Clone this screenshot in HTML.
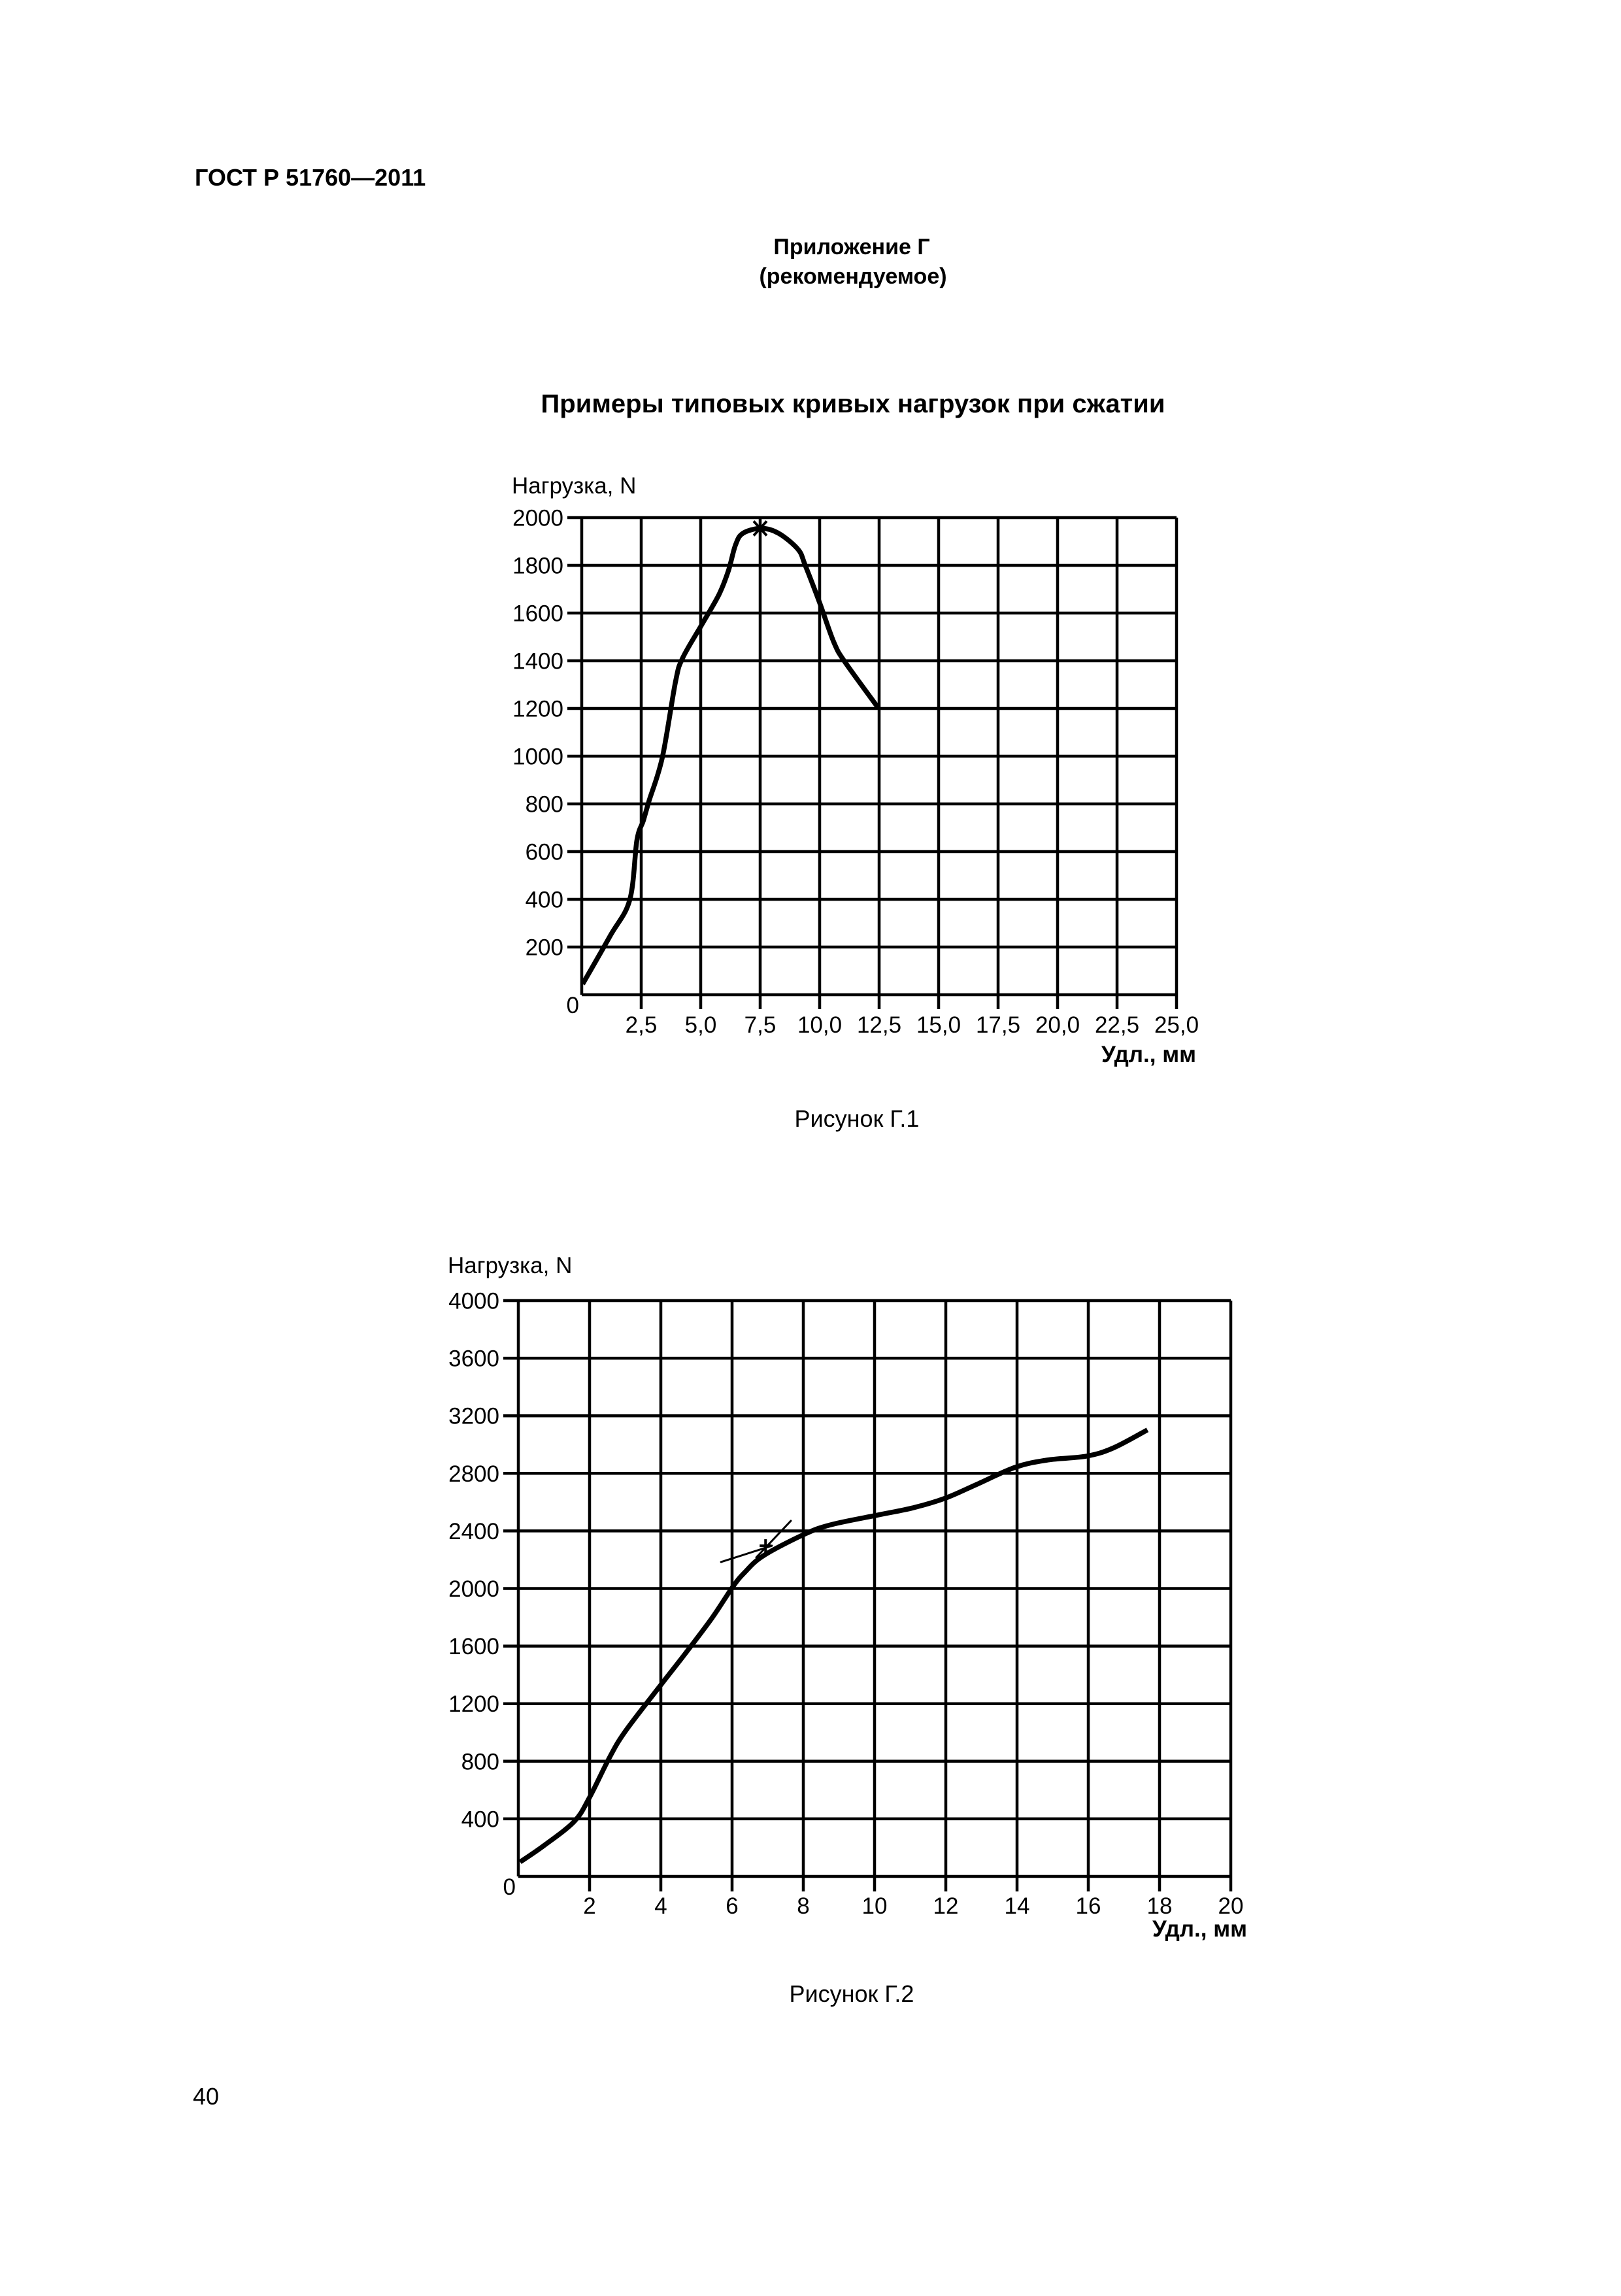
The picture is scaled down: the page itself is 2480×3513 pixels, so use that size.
<!DOCTYPE html>
<html><head><meta charset="utf-8">
<style>
html,body{margin:0;padding:0;background:#fff;}
body{width:2480px;height:3508px;overflow:hidden;}
svg text{font-family:"Liberation Sans",Arial,sans-serif;fill:#000;}
</style></head>
<body>
<svg id="page" width="2480" height="3508" viewBox="0 0 2480 3508" xmlns="http://www.w3.org/2000/svg">
<text x="298" y="284" font-size="36" font-weight="bold">ГОСТ Р 51760—2011</text>
<text x="1303" y="389" font-size="34" font-weight="bold" text-anchor="middle">Приложение Г</text>
<text x="1305" y="434" font-size="34" font-weight="bold" text-anchor="middle">(рекомендуемое)</text>
<text x="1305" y="631" font-size="40" font-weight="bold" text-anchor="middle">Примеры типовых кривых нагрузок при сжатии</text>
<g id="chart1"></g>
<g id="chart2"></g>
<text x="1311" y="1724" font-size="36" text-anchor="middle">Рисунок Г.1</text>
<text x="1303" y="3063" font-size="36" text-anchor="middle">Рисунок Г.2</text>
<text x="295" y="3220" font-size="36">40</text>
</svg>
<script>
// Chart 1 data
const c1XTicks = ["2,5","5,0","7,5","10,0","12,5","15,0","17,5","20,0","22,5","25,0"];
const c1YTicks = [200,400,600,800,1000,1200,1400,1600,1800,2000];
const c1Ext = [0.04,1.21,2.02,2.32,2.59,2.83,3.39,3.94,4.24,5.05,5.76,6.16,6.46,6.77,7.54,8.28,9.09,9.39,10.0,10.6,11.07,12.48];
const c1Load = [45,249,398,647,730,813,996,1311,1411,1552,1676,1776,1884,1934,1955,1934,1867,1801,1643,1477,1394,1200];
const c1Peak = [7.5,1955];
// Chart 2 data
const c2XTicks = ["2","4","6","8","10","12","14","16","18","20"];
const c2YTicks = [400,800,1200,1600,2000,2400,2800,3200,3600,4000];
const c2Ext = [0.05,0.73,1.57,2.0,2.57,3.02,4.0,4.68,5.44,6.02,6.35,6.88,8.03,8.79,10.08,11.07,11.98,12.9,13.96,14.87,15.94,16.7,17.66];
const c2Load = [100,216,382,549,831,1014,1330,1546,1796,2012,2111,2228,2377,2444,2510,2560,2627,2727,2843,2893,2919,2976,3102];
const c2Tangent1Ext = [5.69,7.12];
const c2Tangent1Load = [2184,2297];
const c2Tangent2Ext = [6.68,7.65];
const c2Tangent2Load = [2216,2470];
const c2Mark = [6.94,2297];

const NS="http://www.w3.org/2000/svg";
function mk(parent,tag,attrs){const e=document.createElementNS(NS,tag);for(const k in attrs)e.setAttribute(k,attrs[k]);parent.appendChild(e);return e;}
function smooth(pts){let d="M"+pts[0][0]+","+pts[0][1];for(let i=0;i<pts.length-1;i++){const p0=pts[Math.max(0,i-1)],p1=pts[i],p2=pts[i+1],p3=pts[Math.min(pts.length-1,i+2)];const c1x=p1[0]+(p2[0]-p0[0])/6,c1y=p1[1]+(p2[1]-p0[1])/6,c2x=p2[0]-(p3[0]-p1[0])/6,c2y=p2[1]-(p3[1]-p1[1])/6;d+=" C"+c1x.toFixed(1)+","+c1y.toFixed(1)+" "+c2x.toFixed(1)+","+c2y.toFixed(1)+" "+p2[0].toFixed(1)+","+p2[1].toFixed(1);}return d;}

function drawChart(g,cfg){
  const X=v=>cfg.x0+(v/cfg.xMax)*(cfg.x1-cfg.x0);
  const Y=v=>cfg.y0-(v/cfg.yMax)*(cfg.y0-cfg.y1);
  const t=mk(g,"text",{x:cfg.titleX,y:cfg.titleY,"font-size":35});
  
  
  t.textContent="Нагрузка, N";
  // horizontal grid lines
  const hb=mk(g,"line",{x1:cfg.x0,y1:cfg.y0,x2:cfg.x1,y2:cfg.y0,stroke:"#000","stroke-width":4.5});
  
  
  cfg.yTicks.forEach(v=>{
    const y=Y(v);
    const l=mk(g,"line",{x1:cfg.x0-cfg.tick,y1:y,x2:cfg.x1,y2:y,stroke:"#000","stroke-width":4.5});
    
    
    const tx=mk(g,"text",{x:cfg.x0-cfg.tick-6,y:y+12.5,"font-size":35,"text-anchor":"end"});
    
    
    tx.textContent=String(v);
  });
  const zero=mk(g,"text",{x:cfg.x0-4,y:cfg.y0+28,"font-size":35,"text-anchor":"end"});
  
  
  zero.textContent="0";
  // vertical grid lines
  const va=mk(g,"line",{x1:cfg.x0,y1:cfg.y1,x2:cfg.x0,y2:cfg.y0,stroke:"#000","stroke-width":4.5});
  
  
  cfg.xTicks.forEach((lab,i)=>{
    const v=(i+1)*cfg.xStep;const x=X(v);
    const l=mk(g,"line",{x1:x,y1:cfg.y1,x2:x,y2:cfg.y0+cfg.tick,stroke:"#000","stroke-width":4.5});
    
    
    const tx=mk(g,"text",{x:x,y:cfg.xLabY,"font-size":35,"text-anchor":"middle"});
    
    
    tx.textContent=lab;
  });
  const xt=mk(g,"text",{x:cfg.xTitleX,y:cfg.xTitleY,"font-size":35,"font-weight":"bold","text-anchor":"end"});
  
  
  xt.textContent="Удл., мм";
  const pts=cfg.ext.map((e,i)=>[X(e),Y(cfg.load[i])]);
  const p=mk(g,"path",{d:smooth(pts),fill:"none",stroke:"#000","stroke-width":7.5,"stroke-linejoin":"round"});
  
  
  return {X,Y};
}

const g1=document.getElementById("chart1");
const a1=drawChart(g1,{x0:890,x1:1800,y0:1522,y1:792,xMax:25,yMax:2000,xStep:2.5,tick:22,xTicks:c1XTicks,yTicks:c1YTicks,ext:c1Ext,load:c1Load,titleX:783,titleY:755,xLabY:1580,xTitleX:1830,xTitleY:1625});
{
  const px=a1.X(c1Peak[0]),py=a1.Y(c1Peak[1]);
  const m=mk(g1,"g",{stroke:"#000","stroke-width":4});
  
  
  mk(m,"line",{x1:px-10,y1:py-11,x2:px+10,y2:py+11});
  mk(m,"line",{x1:px+10,y1:py-11,x2:px-10,y2:py+11});
  mk(m,"line",{x1:px,y1:py-13,x2:px,y2:py+13});
}

const g2=document.getElementById("chart2");
const a2=drawChart(g2,{x0:793,x1:1883,y0:2871,y1:1990,xMax:20,yMax:4000,xStep:2,tick:23,xTicks:c2XTicks,yTicks:c2YTicks,ext:c2Ext,load:c2Load,titleX:685,titleY:1948,xLabY:2928,xTitleX:1908,xTitleY:2963});
{
  const t1=mk(g2,"line",{x1:a2.X(c2Tangent1Ext[0]),y1:a2.Y(c2Tangent1Load[0]),x2:a2.X(c2Tangent1Ext[1]),y2:a2.Y(c2Tangent1Load[1]),stroke:"#000","stroke-width":3,"stroke-linecap":"round"});
  
  
  const t2=mk(g2,"line",{x1:a2.X(c2Tangent2Ext[0]),y1:a2.Y(c2Tangent2Load[0]),x2:a2.X(c2Tangent2Ext[1]),y2:a2.Y(c2Tangent2Load[1]),stroke:"#000","stroke-width":3,"stroke-linecap":"round"});
  
  
  const mx=a2.X(c2Mark[0]),my=a2.Y(c2Mark[1]);
  const m=mk(g2,"g",{stroke:"#000","stroke-width":4});
  
  
  mk(m,"line",{x1:mx,y1:my-10,x2:mx,y2:my+10});
  mk(m,"line",{x1:mx-9,y1:my,x2:mx+9,y2:my});
}
</script>
</body></html>
